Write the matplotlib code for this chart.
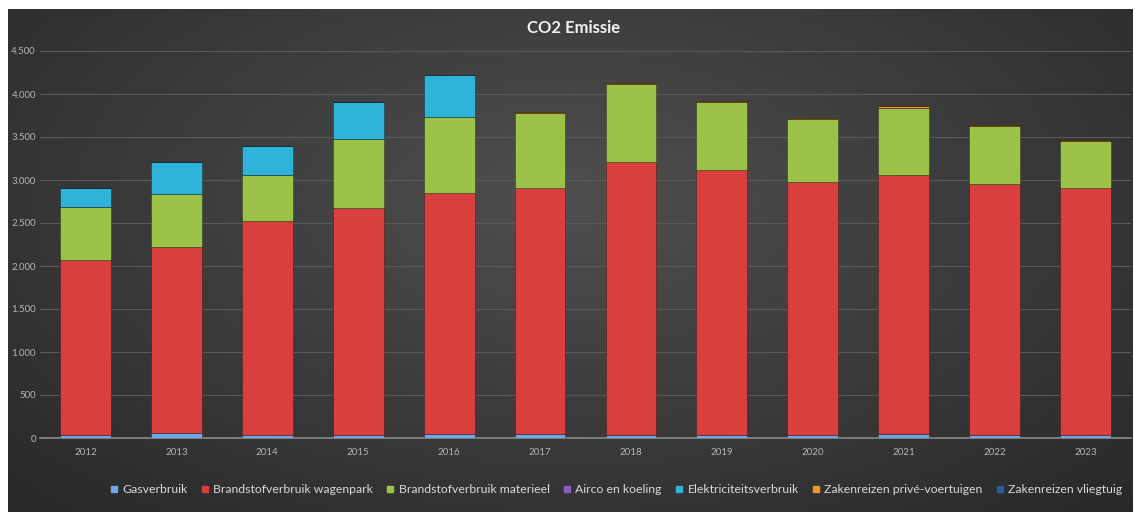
import numpy as np
import matplotlib
matplotlib.use("Agg")
import matplotlib.pyplot as plt
from matplotlib.lines import Line2D

# Data
jaren = ["2012", "2013", "2014", "2015", "2016", "2017",
         "2018", "2019", "2020", "2021", "2022", "2023"]
gasverbruik = [40, 55, 30, 40, 50, 45, 40, 40, 40, 50, 30, 30]
brandstof_wagenpark = [2030, 2166, 2493, 2634, 2795, 2862, 3170, 3076, 2937, 3005, 2923, 2877]
brandstof_materieel = [616, 616, 535, 803, 888, 870, 905, 790, 732, 785, 675, 546]
airco_koeling = [0, 0, 0, 0, 0, 0, 0, 0, 0, 0, 0, 0]
elektriciteit = [221, 372, 337, 430, 488, 0, 0, 0, 0, 0, 0, 0]
prive_voertuigen = [0, 0, 0, 0, 0, 12, 12, 12, 12, 15, 8, 10]
vliegtuig = [0, 0, 0, 0, 0, 0, 0, 0, 0, 0, 0, 0]

series = [
    ("Gasverbruik", gasverbruik, "#6ea6e6"),
    ("Brandstofverbruik wagenpark", brandstof_wagenpark, "#d93f3f"),
    ("Brandstofverbruik materieel", brandstof_materieel, "#9cc347"),
    ("Airco en koeling", airco_koeling, "#8a5cc6"),
    ("Elektriciteitsverbruik", elektriciteit, "#2fb3d8"),
    ("Zakenreizen privé-voertuigen", prive_voertuigen, "#f0962e"),
    ("Zakenreizen vliegtuig", vliegtuig, "#2a5b9c"),
]

plt.rcParams["font.family"] = ["Lato", "DejaVu Sans"]

fig = plt.figure(figsize=(11.35, 5.12), dpi=100)
fig.patch.set_facecolor("white")

# achtergrond met radiaal verloop
bg = fig.add_axes([8 / 1135, 0, 1125 / 1135, 503 / 512])
yy, xx = np.mgrid[0:1:200j, 0:1:400j]
r = np.sqrt(((xx - 0.5) / 0.75) ** 2 + ((yy - 0.62) / 0.9) ** 2)
shade = np.clip(0.31 - 0.16 * r, 0.14, 0.31)
bg.imshow(np.dstack([shade, shade, shade]), aspect="auto", extent=[0, 1, 0, 1], origin="lower")
bg.set_axis_off()

ax = fig.add_axes([40 / 1135, 74 / 512, 1091 / 1135, 387 / 512])
ax.set_facecolor("none")

x = np.arange(len(jaren))
bottom = np.zeros(len(jaren))
for naam, waarden, kleur in series:
    w = np.array(waarden, dtype=float)
    ax.bar(x, w, bottom=bottom, width=0.56, color=kleur,
           edgecolor="#00000055", linewidth=0.6, label=naam, zorder=3)
    bottom += w

ax.set_xlim(-0.5, len(jaren) - 0.5)
ax.set_ylim(0, 4500)
ax.set_yticks(np.arange(0, 4501, 500))
ax.set_yticklabels([f"{v:,}".replace(",", ".") for v in range(0, 4501, 500)])
ax.set_xticks(x)
ax.set_xticklabels(jaren)
ax.tick_params(axis="both", length=0, colors="#b5b5b5", labelsize=7)
ax.tick_params(axis="x", pad=7)
ax.tick_params(axis="y", pad=3)
ax.grid(axis="y", color="#5a5a5a", linewidth=0.8, zorder=0)
for s in ["top", "right", "left"]:
    ax.spines[s].set_visible(False)
ax.spines["bottom"].set_color("#8a8a8a")
ax.spines["bottom"].set_linewidth(1.2)

fig.text(0.505, 0.945, "CO2 Emissie", ha="center", va="center",
         color="#f2f2f2", fontsize=12, fontweight="bold")

handles = [Line2D([], [], marker="s", linestyle="none", markersize=5,
                  markerfacecolor=k, markeredgecolor=k) for _, _, k in series]
labels = [n for n, _, _ in series]
fig.legend(handles, labels, loc="center", bbox_to_anchor=(0.543, 0.043), ncol=7,
           frameon=False, fontsize=8.8, labelcolor="#d9d9d9",
           handlelength=0.6, handletextpad=0.4, columnspacing=1.1)

fig.savefig("out.png", dpi=100)
